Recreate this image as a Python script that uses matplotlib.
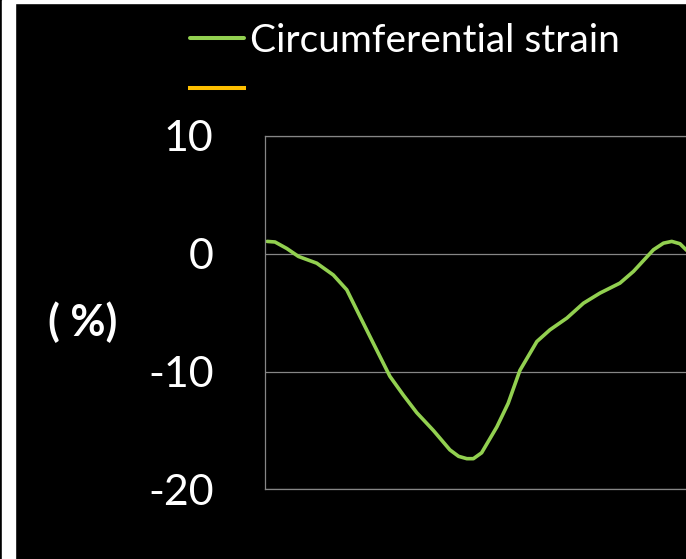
import matplotlib
matplotlib.use('Agg')
import matplotlib.pyplot as plt
from matplotlib.patches import Rectangle
import numpy as np

# time (% of cycle) and circumferential strain (%)
t = [0.5, 2.3, 5.0, 7.7, 11.9, 15.7, 18.8, 21.8, 24.9, 28.7, 31.8, 34.9, 38.7,
     42.5, 44.5, 46.4, 47.9, 49.8, 53.3, 55.9, 58.6, 62.5, 65.5, 69.4, 73.2,
     77.0, 81.6, 84.7, 89.3, 91.6, 93.5, 95.4, 96.8, 98.2, 100.0]
strain = [1.05, 1.0, 0.45, -0.23, -0.8, -1.8, -3.06, -5.3, -7.6, -10.4, -12.0,
          -13.5, -15.0, -16.65, -17.2, -17.4, -17.4, -16.9, -14.7, -12.7, -9.9,
          -7.45, -6.46, -5.46, -4.2, -3.34, -2.49, -1.5, 0.34, 0.9, 1.05, 0.85,
          0.34, -0.1, -0.6]
labels = ['Circumferential strain', '']
yticks = [10, 0, -10, -20]

green = '#92D050'
orange = '#FFC000'
grid = '#868686'

fig = plt.figure(figsize=(6.86, 5.59), dpi=100, facecolor='black')
ax = fig.add_axes([265 / 686, 1 - 489.3 / 559, 435 / 686, (489.3 - 136) / 559])
ax.set_facecolor('black')

l1, = ax.plot(t, strain, color=green, linewidth=2.6, solid_capstyle='round',
              solid_joinstyle='round')
l2, = ax.plot([], [], color=orange, linewidth=2.8)

ax.set_xlim(0, 100)
ax.set_ylim(-20, 10)
ax.set_yticks(yticks)
ax.set_yticklabels([str(v) for v in yticks], fontsize=31, color='white', family='Lato')
ax.set_xticks([])
ax.tick_params(axis='y', length=0, pad=37)
ax.yaxis.grid(True, color=grid, linewidth=0.9)
for s in ax.spines.values():
    s.set_color(grid)
    s.set_linewidth(0.9)

fig.text(83 / 686, 1 - 322 / 559, '( %)', fontsize=31, fontweight='bold',
         color='white', family='Lato', ha='center', va='center')

leg = fig.legend([l1, l2], labels, loc='upper left',
                 bbox_to_anchor=(190 / 686, 1 - 23 / 559),
                 frameon=False, handlelength=1.4,
                 handletextpad=0.15, labelspacing=0.36, borderpad=0,
                 borderaxespad=0, prop={'family': 'Lato', 'size': 28})
for txt in leg.get_texts():
    txt.set_color('white')
for h in leg.get_lines():
    h.set_linewidth(2.9)

# white strips at the left and top edge
fig.patches.append(Rectangle((2 / 686, 0), 13 / 686, 1, transform=fig.transFigure,
                             color='white', zorder=10))
fig.patches.append(Rectangle((15 / 686, 1 - 3 / 559), 1, 3 / 559,
                             transform=fig.transFigure, color='white', zorder=10))

fig.savefig('out.png', dpi=100, facecolor='black')
